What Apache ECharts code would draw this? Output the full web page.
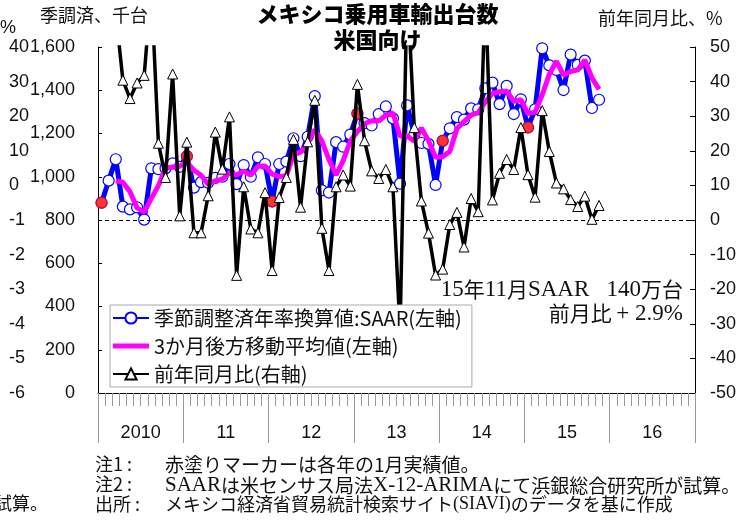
<!DOCTYPE html>
<html><head><meta charset="utf-8">
<script src="https://cdn.jsdelivr.net/npm/echarts@6/dist/echarts.min.js"></script>
<style>html,body{margin:0;padding:0;background:#fff}#c{width:755px;height:526px}</style>
</head><body><div id="c"></div>
<script>
// ---- data ----
const years = ['2010', '11', '12', '13', '14', '15', '16'];
const monthsPerYear = 12;

// 季節調整済年率換算値 SAAR (千台, left axis), Jan 2010 - Nov 2015
const saar = [
  880, 982, 1081, 862, 849, 858, 802, 1039, 1035, 1039, 1062, 1046,
  1095, 950, 975, 972, 995, 1000, 1059, 966, 1054, 1000, 1090, 1059,
  886, 1059, 1070, 1178, 1095, 1185, 1373, 937, 927, 1160, 1139, 1195,
  1292, 1248, 1237, 1290, 1325, 1270, 968, 1330, 1193, 1156, 1152, 962,
  1166, 1224, 1276, 1264, 1316, 1312, 1409, 1435, 1336, 1420, 1290, 1358,
  1228, 1312, 1594, 1515, 1494, 1401, 1565, 1517, 1537, 1318, 1356
];

// 3か月後方移動平均値 (千台, left axis)
const ma3 = [
  '-', '-', 981, 975, 931, 856, 836, 900, 959, 1038, 1045, 1049,
  1068, 1030, 1007, 966, 981, 989, 1018, 1008, 1026, 1007, 1048, 1050,
  1012, 1001, 1005, 1102, 1114, 1153, 1218, 1165, 1079, 1008, 1075, 1165,
  1209, 1245, 1259, 1258, 1284, 1295, 1188, 1189, 1164, 1226, 1167, 1090,
  1093, 1117, 1222, 1255, 1285, 1297, 1346, 1385, 1393, 1397, 1349, 1356,
  1292, 1299, 1378, 1474, 1534, 1470, 1487, 1494, 1540, 1457, 1404
];

// 前年同月比 (%, right axis)
const yoy = [
  75, 80, 60, 40.4, 35.1, 39.6, 41.8, 67, 22.2, 12.3, 42.2, 1.2,
  22.5, -3.7, -3.7, 7.0, 25.4, 14.7, 29.8, -16.0, 9.6, -2.6, -3.7, 7.9,
  -14.6, 6.5, 12.3, 23.3, 3.7, 22.6, 34.6, -2.4, -14.6, 9.6, 13.0, 9.8,
  39.2, 22.9, 14.2, 12.0, 14.6, 9.6, -32, 68, 26.7, 5.5, -3.8, -15.9,
  -14.2, -1.3, 2.2, -7.8, 6.2, 2.4, 66, 5.8, 13.5, 17.5, 14.6, 26.7,
  13.1, 6.6, 31.6, 19.8, 10.7, 9.0, 5.9, 3.9, 6.9, 0.2, 4.2
];

// stray outer-left axis tick labels (bottom to top)
const pctTicks = ['-6', '-5', '-4', '-3', '-2', '-1', '0', '10', '20', '30', '40'];

const seriesNames = ['季節調整済年率換算値:SAAR(左軸)', '3か月後方移動平均値(左軸)', '前年同月比(右軸)'];

// ---- build chart ----
const monthCats = [];
years.forEach(y => { for (let m = 1; m <= monthsPerYear; m++) monthCats.push(y + '/' + m); });
const janActual = saar.map((v, i) => (i % monthsPerYear === 0 ? v : '-'));

const sans = "'Liberation Sans', Arial, sans-serif";
const jp = "'Noto Sans CJK JP', sans-serif";
const serif = "'Liberation Serif', 'Times New Roman', serif";

const chart = echarts.init(document.getElementById('c'), null, { renderer: 'canvas' });
chart.setOption({
  animation: false,
  backgroundColor: '#fff',
  grid: { left: 98, right: 60, top: 47, bottom: 133, containLabel: false },
  xAxis: [
    {
      type: 'category', data: monthCats, boundaryGap: true, position: 'bottom',
      axisLine: { show: true, onZero: false, lineStyle: { color: '#000', width: 1 } },
      axisTick: { show: true, interval: 0, length: 13, lineStyle: { color: '#999' } },
      axisLabel: { show: false }, splitLine: { show: false }
    },
    {
      type: 'category', data: years, boundaryGap: true, position: 'bottom', offset: 0,
      axisLine: { show: false, onZero: false },
      axisTick: { show: true, interval: 0, length: 50, lineStyle: { color: '#999' } },
      axisLabel: { margin: 31, fontSize: 18, fontFamily: sans, color: '#111' },
      splitLine: { show: false }
    }
  ],
  yAxis: [
    {
      type: 'value', min: 0, max: 1600, interval: 200, position: 'left',
      axisLine: { show: true, onZero: false, lineStyle: { color: '#000' } },
      axisTick: { show: true, inside: true, length: 4, lineStyle: { color: '#000' } },
      axisLabel: { margin: 23, fontSize: 18, fontFamily: sans, color: '#111',
        formatter: v => v.toLocaleString('en-US') },
      splitLine: { show: false }
    },
    {
      type: 'value', min: -50, max: 50, interval: 10, position: 'right',
      axisLine: { show: true, onZero: false, lineStyle: { color: '#000' } },
      axisTick: { show: true, inside: true, length: 5, lineStyle: { color: '#000' } },
      axisLabel: { margin: 15, fontSize: 18, fontFamily: sans, color: '#111' },
      splitLine: { show: false }
    },
    {
      type: 'value', min: 0, max: 10, interval: 1, position: 'left', offset: 0,
      axisLine: { show: false, onZero: false }, axisTick: { show: false },
      axisLabel: { margin: 89, align: 'left', fontSize: 18, fontFamily: sans, color: '#111',
        formatter: v => pctTicks[Math.round(v)] },
      splitLine: { show: false }
    }
  ],
  legend: {
    orient: 'vertical', left: 110, top: 305,
    data: [
      { name: seriesNames[0] },
      { name: seriesNames[1], icon: 'path://M0,0L36,0L36,5L0,5Z' },
      { name: seriesNames[2] }
    ],
    symbolKeepAspect: true,
    backgroundColor: '#fff', borderColor: '#aaa', borderWidth: 1,
    padding: [3, 10, 3, 2], itemGap: 8, itemWidth: 36, itemHeight: 14,
    textStyle: { fontSize: 20, fontFamily: jp, color: '#111' },
    z: 10
  },
  series: [
    {
      name: seriesNames[0], type: 'line', data: saar, xAxisIndex: 0, yAxisIndex: 0,
      symbol: 'circle', symbolSize: 11, showAllSymbol: true,
      lineStyle: { color: '#0000ff', width: 5 },
      itemStyle: { color: '#fff', borderColor: '#0000ff', borderWidth: 1.2 },
      z: 2
    },
    {
      name: seriesNames[1], type: 'line', data: ma3, xAxisIndex: 0, yAxisIndex: 0,
      symbol: 'none', lineStyle: { color: '#ff00ff', width: 5 },
      itemStyle: { color: '#ff00ff' }, z: 3
    },
    {
      name: 'jan', type: 'scatter', data: janActual, xAxisIndex: 0, yAxisIndex: 0,
      symbol: 'circle', symbolSize: 12, itemStyle: { color: '#ff0000' }, z: 4
    },
    {
      name: seriesNames[2], type: 'line', data: yoy, xAxisIndex: 0, yAxisIndex: 1,
      symbol: 'triangle', symbolSize: 10, showAllSymbol: true,
      lineStyle: { color: '#000', width: 3.5 },
      itemStyle: { color: '#fff', borderColor: '#000', borderWidth: 1 },
      markLine: {
        silent: true, symbol: 'none', label: { show: false },
        lineStyle: { color: '#000', width: 1, type: [4, 3], opacity: 1 },
        emphasis: { disabled: true },
        data: [{ yAxis: 0 }]
      },
      z: 5
    }
  ],
  graphic: [
    { type: 'text', left: 'center', top: 3, style: { text: 'メキシコ乗用車輸出台数', font: '900 22px ' + jp, fill: '#000' } },
    { type: 'text', left: 'center', top: 29, style: { text: '米国向け', font: '900 22px ' + jp, fill: '#000' } },
    { type: 'text', left: 40, top: 6, style: { text: '季調済、千台', font: '18px ' + jp, fill: '#111' } },
    { type: 'text', left: 598, top: 9, style: { text: '前年同月比、%', font: '18px ' + jp, fill: '#111' } },
    { type: 'text', left: 0, top: 19, style: { text: '%', font: '18px ' + sans, fill: '#111' } },
    { type: 'text', right: 72, top: 278, style: {
        text: '{s|15}年{s|11}月{s|SAAR   140}万台', font: '21px ' + jp, fill: '#111',
        rich: { s: { fontFamily: serif, fontSize: 23, fill: '#111' } } } },
    { type: 'text', right: 72, top: 302, style: {
        text: '前月比 {s|+ 2.9%}', font: '21px ' + jp, fill: '#111',
        rich: { s: { fontFamily: serif, fontSize: 23, fill: '#111' } } } },
    { type: 'text', left: 95, top: 455, style: { text: '注1 :', font: '18px ' + jp, fill: '#111' } },
    { type: 'text', left: 95, top: 475, style: { text: '注2 :', font: '18px ' + jp, fill: '#111' } },
    { type: 'text', left: 95, top: 495, style: { text: '出所 :', font: '18px ' + jp, fill: '#111' } },
    { type: 'text', left: 165, top: 455, style: { text: '赤塗りマーカーは各年の1月実績値。', font: '19px ' + jp, fill: '#111' } },
    { type: 'text', left: 165, top: 475, style: {
        text: '{s|SAAR}は米センサス局法{s|X-12-ARIMA}にて浜銀総合研究所が試算。', font: '19px ' + jp, fill: '#111',
        rich: { s: { fontFamily: serif, fontSize: 21, fill: '#111' } } } },
    { type: 'text', left: 165, top: 495, style: {
        text: 'メキシコ経済省貿易統計検索サイト{s|(SIAVI)}のデータを基に作成', font: '18px ' + jp, fill: '#111',
        rich: { s: { fontFamily: serif, fontSize: 18, fill: '#111' } } } },
    { type: 'text', left: -6, top: 494, style: { text: '試算。', font: '18px ' + jp, fill: '#111' } }
  ]
});
</script>
</body></html>
